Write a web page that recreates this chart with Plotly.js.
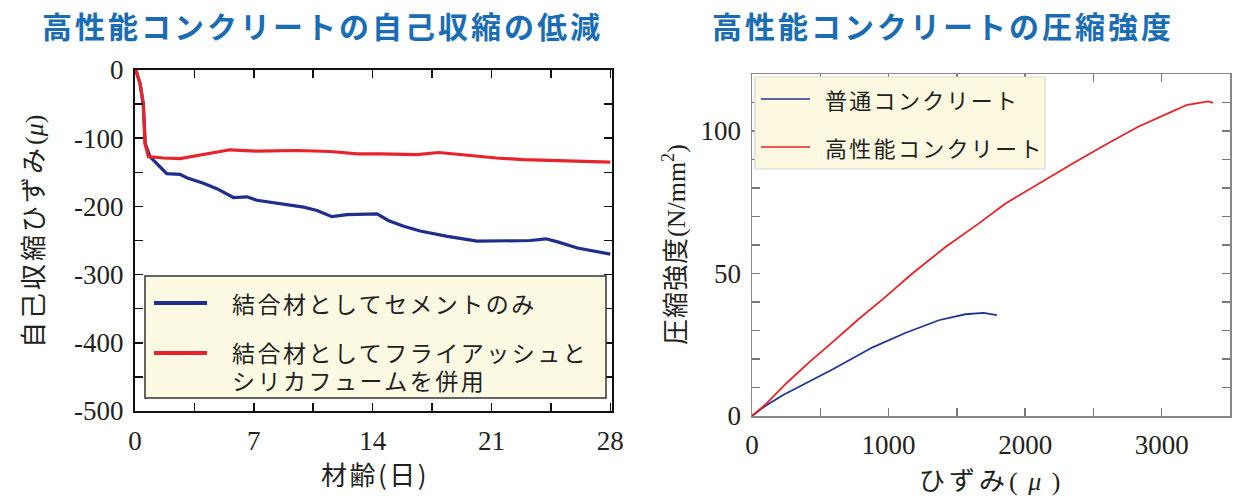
<!DOCTYPE html>
<html>
<head>
<meta charset="utf-8">
<script src="https://cdn.plot.ly/plotly-3.0.1.min.js"></script>
<style>html,body{margin:0;padding:0;background:#fff;}#chart{width:1250px;height:500px;}</style>
</head>
<body>
<div id="chart"></div>
<script>
// ---- Left chart: autogenous shrinkage vs age ----
const ageCement = [0.05,0.3,0.49,0.6,0.88,1.28,1.87,2.65,3.05,4.03,4.82,5.8,6.6,7.18,8.55,9.93,10.72,11.6,12.5,13.5,14.26,14.95,15.83,16.8,18.4,20.16,21.34,23.3,24.2,24.9,26.06,27.24,28.0];
const shrinkCement = [0,-20,-52,-108,-127,-137,-152,-153,-158,-166,-174,-187,-186,-191,-196,-201,-206,-215,-212,-212,-211,-221,-229,-236,-244,-251,-251,-250,-247.5,-252,-261,-266,-270];
const ageFlyAsh = [0.05,0.3,0.49,0.59,0.79,1.67,2.65,3.64,4.62,5.6,7.18,9.54,11.5,13.1,14.45,16.6,17.9,19.4,21.3,22.9,25.3,28.0];
const shrinkFlyAsh = [0,-20,-49,-108,-127,-129,-130,-126,-121,-117,-119,-118,-119.5,-123,-123,-124,-121,-125,-129,-131.5,-133,-135];
const leftXTicks = [0,7,14,21,28];
const leftYTickVals = [0,-100,-200,-300,-400,-500];
const leftYTickText = ['0','-100','-200','-300','-400','-500'];

// ---- Right chart: stress-strain ----
const strainNormal = [0,100,228,398,592,883,1126,1368,1562,1696,1793];
const stressNormal = [0,3.6,7.4,11.5,16.4,24.1,29.2,33.6,35.7,36.2,35.4];
const strainHigh = [0,107,252,422,592,786,956,1174,1417,1659,1854,2096,2339,2581,2824,3066,3188,3309,3341,3376];
const stressHigh = [0,4.4,11.5,19,26,34.2,40.9,50,59.3,67.5,74.5,81.5,88.3,95,101.4,106.6,109.2,110.1,110.4,109.9];
const rightXTicks = [0,1000,2000,3000];
const rightYTicks = [0,50,100];

const legendLeft = ['結合材としてセメントのみ', ['結合材としてフライアッシュと', 'シリカフュームを併用']];
const legendRight = ['普通コンクリート', '高性能コンクリート'];

const BLUE_L = '#1f2d8c', RED_L = '#e8232b';
const BLUE_R = '#1f3596', RED_R = '#ec2127';
const CJK = 'Noto Sans CJK JP';
const SERIF = 'Liberation Serif';
const TXT = '#231f20';

const W = 1250, H = 500;
const px = v => v / W;
const py = v => (H - v) / H;
const spaced = (t, s) => '<span style="letter-spacing:' + s + 'px">' + t + '</span>';
const serif = t => '<span style="font-family:Liberation Serif">' + t + '</span>';

const traces = [
  {x: ageCement, y: shrinkCement, xaxis: 'x', yaxis: 'y', mode: 'lines', name: legendLeft[0],
   line: {color: BLUE_L, width: 3.2}, showlegend: false},
  {x: ageFlyAsh, y: shrinkFlyAsh, xaxis: 'x', yaxis: 'y', mode: 'lines', name: legendLeft[1].join(''),
   line: {color: RED_L, width: 3.2}, showlegend: false},
  {x: strainNormal, y: stressNormal, xaxis: 'x2', yaxis: 'y2', mode: 'lines', name: legendRight[0],
   line: {color: BLUE_R, width: 1.8}, showlegend: false},
  {x: strainHigh, y: stressHigh, xaxis: 'x2', yaxis: 'y2', mode: 'lines', name: legendRight[1],
   line: {color: RED_R, width: 1.8}, showlegend: false}
];

const tickFont = {family: SERIF, size: 27, color: TXT};

const layout = {
  width: W, height: H,
  margin: {l: 0, r: 0, t: 0, b: 0},
  font: {family: SERIF},
  paper_bgcolor: '#fff', plot_bgcolor: 'rgba(0,0,0,0)',
  showlegend: false,
  xaxis: {
    domain: [px(135), px(612)], anchor: 'y', range: [0, 28.1],
    tickvals: leftXTicks, ticktext: leftXTicks.map(String),
    ticks: 'inside', ticklen: 8, tickwidth: 1.5, tickcolor: '#111',
    minor: {dtick: 3.5, tick0: 0, ticks: 'inside', ticklen: 8, tickwidth: 1.5, tickcolor: '#111'},
    showline: true, linecolor: '#111', linewidth: 2, mirror: 'allticks',
    showgrid: false, zeroline: false, tickfont: tickFont, ticklabelstandoff: 5
  },
  yaxis: {
    domain: [py(411), py(70)], anchor: 'x', range: [-500, 0],
    tickvals: leftYTickVals, ticktext: leftYTickText,
    ticks: 'inside', ticklen: 8, tickwidth: 1.5, tickcolor: '#111',
    minor: {dtick: 50, tick0: 0, ticks: 'inside', ticklen: 8, tickwidth: 1.5, tickcolor: '#111'},
    showline: true, linecolor: '#111', linewidth: 2, mirror: 'allticks',
    showgrid: false, zeroline: false, tickfont: tickFont, ticklabelstandoff: 4
  },
  xaxis2: {
    domain: [px(752), px(1230)], anchor: 'y2', range: [0, 3500],
    tickvals: rightXTicks, ticktext: rightXTicks.map(String),
    ticks: 'inside', ticklen: 8, tickwidth: 1.3, tickcolor: '#777',
    minor: {dtick: 500, tick0: 0, ticks: 'inside', ticklen: 8, tickwidth: 1.3, tickcolor: '#777'},
    showline: true, linecolor: '#888', linewidth: 1.5, mirror: 'allticks',
    showgrid: false, zeroline: false, tickfont: tickFont, ticklabelstandoff: 4
  },
  yaxis2: {
    domain: [py(416), py(74)], anchor: 'x2', range: [0, 120],
    tickvals: rightYTicks, ticktext: rightYTicks.map(String),
    ticks: 'inside', ticklen: 8, tickwidth: 1.3, tickcolor: '#777',
    minor: {dtick: 10, tick0: 0, ticks: 'inside', ticklen: 8, tickwidth: 1.3, tickcolor: '#777'},
    showline: true, linecolor: '#888', linewidth: 1.5, mirror: 'allticks',
    showgrid: false, zeroline: false, tickfont: tickFont, ticklabelstandoff: 4
  },
  shapes: [
    {type: 'rect', xref: 'paper', yref: 'paper', x0: px(145), x1: px(606), y0: py(398), y1: py(276),
     fillcolor: '#fdfae4', line: {color: '#333', width: 1.5}, layer: 'above'},
    {type: 'line', xref: 'paper', yref: 'paper', x0: px(154), x1: px(207), y0: py(303), y1: py(303),
     line: {color: BLUE_L, width: 4}, layer: 'above'},
    {type: 'line', xref: 'paper', yref: 'paper', x0: px(154), x1: px(207), y0: py(353), y1: py(353),
     line: {color: RED_L, width: 4}, layer: 'above'},
    {type: 'rect', xref: 'paper', yref: 'paper', x0: px(755), x1: px(1045), y0: py(169), y1: py(77),
     fillcolor: '#fcf9e0', line: {color: '#d8d8d0', width: 1.2}, layer: 'above'},
    {type: 'line', xref: 'paper', yref: 'paper', x0: px(761), x1: px(810), y0: py(99), y1: py(99),
     line: {color: BLUE_R, width: 1.6}, layer: 'above'},
    {type: 'line', xref: 'paper', yref: 'paper', x0: px(761), x1: px(810), y0: py(147), y1: py(147),
     line: {color: RED_R, width: 1.6}, layer: 'above'}
  ],
  annotations: [
    {text: spaced('高性能コンクリートの自己収縮の低減', 3), xref: 'paper', yref: 'paper', x: px(322), y: py(25),
     xanchor: 'center', yanchor: 'middle', showarrow: false,
     font: {family: CJK, size: 30, color: '#1a6db5', weight: 'bold'}},
    {text: spaced('高性能コンクリートの圧縮強度', 3), xref: 'paper', yref: 'paper', x: px(943), y: py(25),
     xanchor: 'center', yanchor: 'middle', showarrow: false,
     font: {family: CJK, size: 30, color: '#1a6db5', weight: 'bold'}},
    {text: spaced('自己収縮ひずみ', 3) + serif('(<i>μ</i>)'), xref: 'paper', yref: 'paper', x: px(32), y: py(232), textangle: -90,
     xanchor: 'center', yanchor: 'middle', showarrow: false,
     font: {family: CJK, size: 26, color: TXT}},
    {text: spaced('材齢(日)', 2.5), xref: 'paper', yref: 'paper', x: px(375), y: py(473),
     xanchor: 'center', yanchor: 'middle', showarrow: false,
     font: {family: CJK, size: 26, color: TXT}},
    {text: spaced('圧縮強度', 1) + serif('(N/mm<sup>2</sup>)'), xref: 'paper', yref: 'paper',
     x: px(673), y: py(245), textangle: -90,
     xanchor: 'center', yanchor: 'middle', showarrow: false,
     font: {family: CJK, size: 26, color: TXT}},
    {text: spaced('ひずみ', 4) + serif(spaced('( <i>μ</i> )', 2)), xref: 'paper', yref: 'paper', x: px(990), y: py(478),
     xanchor: 'center', yanchor: 'middle', showarrow: false,
     font: {family: CJK, size: 26, color: TXT}},
    {text: spaced(legendLeft[0], 2.5), xref: 'paper', yref: 'paper', x: px(230), y: py(303),
     xanchor: 'left', yanchor: 'middle', showarrow: false, align: 'left',
     font: {family: CJK, size: 23, color: TXT}},
    {text: spaced(legendLeft[1][0], 2.5), xref: 'paper', yref: 'paper', x: px(230), y: py(352),
     xanchor: 'left', yanchor: 'middle', showarrow: false, align: 'left',
     font: {family: CJK, size: 23, color: TXT}},
    {text: spaced(legendLeft[1][1], 2.5), xref: 'paper', yref: 'paper', x: px(230), y: py(380),
     xanchor: 'left', yanchor: 'middle', showarrow: false, align: 'left',
     font: {family: CJK, size: 23, color: TXT}},
    {text: spaced(legendRight[0], 2.3), xref: 'paper', yref: 'paper', x: px(823), y: py(99),
     xanchor: 'left', yanchor: 'middle', showarrow: false, align: 'left',
     font: {family: CJK, size: 22, color: TXT}},
    {text: spaced(legendRight[1], 2.3), xref: 'paper', yref: 'paper', x: px(823), y: py(147),
     xanchor: 'left', yanchor: 'middle', showarrow: false, align: 'left',
     font: {family: CJK, size: 22, color: TXT}}
  ]
};

Plotly.newPlot('chart', traces, layout, {staticPlot: true, displayModeBar: false});
</script>
</body>
</html>
